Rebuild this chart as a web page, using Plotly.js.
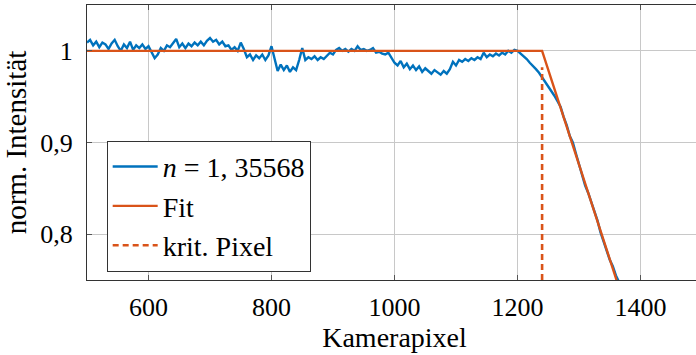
<!DOCTYPE html>
<html>
<head>
<meta charset="utf-8">
<script src="https://cdn.plot.ly/plotly-3.0.1.min.js"></script>
<style>
html,body{margin:0;padding:0;overflow:hidden;background:#fff;width:696px;height:355px;}
#chart{width:702px;height:355px;}
</style>
</head>
<body>
<div id="chart"></div>
<script>
// Measured intensity (camera pixel vs normalized intensity)
const pixelX = [
500,505,510,515,520,525,530,535,540,545,550,555,560,565,570,575,580,585,590,595,
600,605,610,615,620,625,630,635,640,645,650,655,660,665,670,675,680,685,690,695,
700,705,710,715,720,725,730,735,740,745,750,755,760,765,770,775,780,785,790,795,
800,805,810,815,820,825,830,835,840,845,850,855,860,865,870,875,880,885,890,895,
900,905,910,915,920,925,930,935,940,945,950,955,960,965,970,975,980,985,990,995,
1000,1005,1010,1015,1020,1025,1030,1035,1040,1045,1050,1055,1060,1065,1070,1075,1080,1085,1090,1095,
1100,1105,1110,1115,1120,1125,1130,1135,1140,1145,1150,1155,1160,1165,1170,1175,1180,1185,1190,1195,
1200,1205,1210,1215,1220,1225,1230,1235,1240,1245,1250,1255,1260,1265,1270,1275,1280,1285,1290,1295,
1300,1305,1310,1315,1320,1325,1330,1335,1340,1345,1350,1355,1360,1365
];
const intensity = [
1.009,1.012,1.006,1.010,1.004,1.009,1.007,1.002,1.008,1.012,1.005,1.000,1.007,1.003,1.010,1.001,1.006,1.003,1.007,1.002,
1.005,0.998,0.992,0.996,1.003,1.000,1.006,1.004,1.009,1.013,1.004,1.008,1.003,1.008,1.005,1.009,1.006,1.010,1.006,1.011,
1.014,1.010,1.012,1.007,1.010,1.005,1.006,1.001,1.004,1.000,1.009,1.002,0.993,0.996,0.990,0.995,0.992,0.996,0.990,0.995,
1.005,0.990,0.978,0.985,0.979,0.984,0.977,0.982,0.979,0.990,1.003,0.990,0.993,0.991,0.994,0.990,0.993,0.991,0.995,0.998,
0.996,1.001,1.003,1.000,1.002,0.999,1.002,1.000,1.005,1.001,1.002,1.000,1.001,1.003,0.998,0.999,0.997,0.996,0.998,0.993,
0.987,0.984,0.989,0.982,0.986,0.980,0.984,0.979,0.983,0.977,0.981,0.978,0.975,0.979,0.976,0.974,0.978,0.975,0.980,0.988,
0.984,0.990,0.988,0.991,0.989,0.992,0.990,0.993,0.991,0.998,0.993,0.996,0.994,0.997,0.995,0.998,0.996,1.000,0.998,1.001,
1.000,0.997,0.995,0.991,0.987,0.984,0.980,0.976,0.971,0.967,0.961,0.956,0.951,0.945,0.939,0.928,0.919,0.907,0.900,0.888,
0.876,0.866,0.853,0.845,0.835,0.824,0.815,0.802,0.792,0.780,0.772,0.765,0.755,0.748
];
// Fit (piecewise linear)
const fitX = [500, 1240, 1361];
const fitY = [1.0, 1.0, 0.75];
// critical pixel marker
const kritX = [1240, 1240];
const kritY = [0.75, 0.982];
// axis ticks
const xTicks = [600, 800, 1000, 1200, 1400];
const yTickVals = [0.8, 0.9, 1];
const yTickText = ['0,8', '0,9', '1'];
const seriesNames = ['<i>n</i> = 1, 35568', 'Fit', 'krit. Pixel'];

const blue = '#0072BD', orange = '#D95319';
const FONT = '"Liberation Serif", "Times New Roman", serif';
const INK = '#000';

const traces = [
  {x: pixelX, y: intensity, mode: 'lines', name: seriesNames[0], line: {color: blue, width: 2.4}},
  {x: fitX, y: fitY, mode: 'lines', name: seriesNames[1], line: {color: orange, width: 2.4}},
  {x: kritX, y: kritY, mode: 'lines', name: seriesNames[2], line: {color: orange, width: 2.6, dash: '6px,4px'}}
];

const axisCommon = {
  showgrid: true, gridcolor: '#c8c8c8', gridwidth: 1,
  showline: true, linecolor: '#333', linewidth: 1,
  ticks: 'inside', ticklen: 5, tickcolor: '#555', tickwidth: 1,
  mirror: 'allticks', zeroline: false,
  tickfont: {family: FONT, size: 26, color: INK}
};

const layout = {
  width: 702, height: 355,
  margin: {l: 87, r: 0, t: 5, b: 75},
  paper_bgcolor: '#fff', plot_bgcolor: '#fff',
  font: {family: FONT, size: 26, color: INK},
  showlegend: true,
  legend: {
    x: 0.032, y: 0.03, xanchor: 'left', yanchor: 'bottom',
    bgcolor: '#fff', bordercolor: '#333', borderwidth: 1,
    font: {family: FONT, size: 28, color: INK},
    tracegroupgap: 0, itemwidth: 45
  },
  xaxis: Object.assign({}, axisCommon, {
    range: [500, 1500], tickvals: xTicks, ticklabelstandoff: 4,
    title: {text: 'Kamerapixel', font: {family: FONT, size: 28, color: INK}, standoff: 6}
  }),
  yaxis: Object.assign({}, axisCommon, {
    range: [0.75, 1.05], tickvals: yTickVals, ticktext: yTickText, ticklabelstandoff: 8,
    title: {text: 'norm. Intensität', font: {family: FONT, size: 29, color: INK}, standoff: 8}
  })
};

Plotly.newPlot('chart', traces, layout, {displayModeBar: false, staticPlot: true});
</script>
</body>
</html>
